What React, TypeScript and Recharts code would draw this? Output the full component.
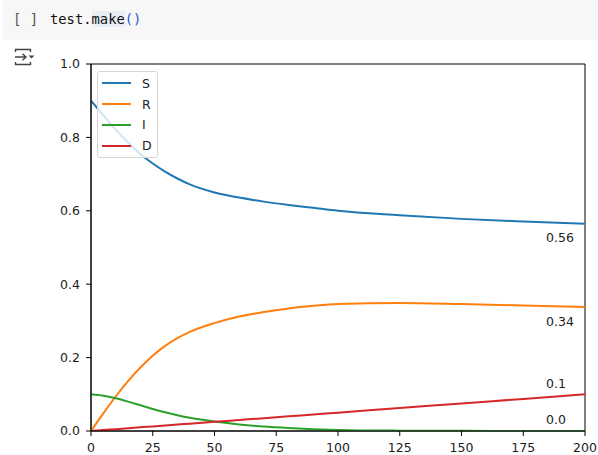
import { LineChart, Line, XAxis, YAxis, Legend, ReferenceArea } from 'recharts';

// time steps
const t = [0, 5, 10, 15, 20, 25, 30, 35, 40, 50, 60, 70, 80, 90, 100, 125, 150, 175, 200];

const sValues = [0.9, 0.86, 0.821, 0.786, 0.755, 0.729, 0.707, 0.688, 0.672, 0.65, 0.636, 0.625, 0.616, 0.608, 0.6, 0.588, 0.578, 0.571, 0.565];
const rValues = [0, 0.048, 0.094, 0.136, 0.173, 0.205, 0.232, 0.253, 0.27, 0.294, 0.312, 0.324, 0.334, 0.341, 0.346, 0.349, 0.346, 0.342, 0.338];
const iValues = [0.1, 0.096, 0.089, 0.08, 0.07, 0.06, 0.051, 0.043, 0.036, 0.026, 0.018, 0.012, 0.008, 0.005, 0.003, 0.001, 0.0004, 0.0002, 0.0001];
const dValues = [0, 0.0025, 0.005, 0.0075, 0.01, 0.0125, 0.015, 0.0175, 0.02, 0.025, 0.03, 0.035, 0.04, 0.045, 0.05, 0.0625, 0.075, 0.0875, 0.1];

const seriesNames = ['S', 'R', 'I', 'D'];
const endLabels = ['0.56', '0.34', '0.0', '0.1'];

const xTicks = [0, 25, 50, 75, 100, 125, 150, 175, 200];
const yTicks = [0, 0.2, 0.4, 0.6, 0.8, 1.0];

const data = t.map((x, i) => ({
  t: x,
  S: sValues[i],
  R: rValues[i],
  I: iValues[i],
  D: dValues[i],
}));

const colors = ['#1f77b4', '#ff7f0e', '#2ca02c', '#d62728'];
// vertical offset of the end label relative to the last point
const labelDy = [14, 15, -11, -11];

const FONT = '"DejaVu Sans", sans-serif';
const MONO = '"DejaVu Sans Mono", "Liberation Mono", monospace';

const makeEndLabel = (idx: number) => (props: any) => {
  const { x, y, index } = props;
  if (index !== t.length - 1) return null;
  return (
    <text
      x={x - 39}
      y={y + labelDy[idx]}
      fill="#222"
      fontSize={12.5}
      fontFamily={FONT}
      dominantBaseline="central"
    >
      {endLabels[idx]}
    </text>
  );
};

const LegendBox = ({ payload }: any) => {
  const items = [...(payload || [])].sort(
    (a: any, b: any) => seriesNames.indexOf(a.value) - seriesNames.indexOf(b.value)
  );
  return (
    <div
      style={{
        width: 61,
        height: 87,
        boxSizing: 'border-box',
        border: '1px solid #d6d6d6',
        borderRadius: 3,
        background: 'rgba(255,255,255,0.8)',
        paddingTop: 1,
        fontFamily: FONT,
        fontSize: 12.5,
        color: '#222',
      }}
    >
      {items.map((p: any) => (
        <div key={p.value} style={{ display: 'flex', alignItems: 'center', height: 20.8 }}>
          <div style={{ width: 29, height: 2, background: p.color, marginLeft: 4 }} />
          <span style={{ marginLeft: 11 }}>{p.value}</span>
        </div>
      ))}
    </div>
  );
};

const OutputIcon = () => (
  <svg width={22} height={18} style={{ position: 'absolute', left: 14, top: 48 }}>
    <g stroke="#444" strokeWidth={1.4} fill="none">
      <path d="M1.5 4 V1.5 H16.5 V4" />
      <path d="M1.5 14 V16.5 H16.5 V14" />
      <path d="M1 9 H12 M8.5 5.8 L12 9 L8.5 12.2" />
    </g>
    <path d="M14.5 7.5 H20.5 L17.5 10.5 Z" fill="#444" />
  </svg>
);

const App = () => {
  return (
    <div style={{ position: 'fixed', left: 0, top: 0, width: 598, height: 455, background: '#fff', overflow: 'hidden' }}>
      <div style={{ position: 'absolute', left: 3, top: 0, width: 595, height: 40, background: '#f7f7f7' }} />
      <div style={{ position: 'absolute', left: 13, top: 11, fontFamily: MONO, fontSize: 14, color: '#555', whiteSpace: 'pre' }}>
        [ ]
      </div>
      <div style={{ position: 'absolute', left: 50, top: 11, fontFamily: MONO, fontSize: 13.8, color: '#111', whiteSpace: 'pre' }}>
        test.<span style={{ background: '#e9eef4' }}>make</span>
        <span style={{ color: '#1c5bd6' }}>()</span>
      </div>
      <OutputIcon />

      <div style={{ position: 'absolute', left: 0, top: 0 }}>
        <LineChart width={598} height={455} data={data} margin={{ top: 64, right: 13, bottom: 0, left: 0 }}>
          <XAxis
            dataKey="t"
            type="number"
            domain={[0, 200]}
            ticks={xTicks}
            height={24}
            tickSize={5}
            tickMargin={7}
            axisLine={{ stroke: '#000' }}
            tickLine={{ stroke: '#000' }}
            tick={{ fill: '#222', fontSize: 12.5, fontFamily: FONT }}
            allowDataOverflow
          />
          <YAxis
            type="number"
            domain={[0, 1]}
            ticks={yTicks}
            width={91}
            tickSize={5}
            tickMargin={6}
            tickFormatter={(v: number) => v.toFixed(1)}
            axisLine={{ stroke: '#000' }}
            tickLine={{ stroke: '#000' }}
            tick={{ fill: '#222', fontSize: 12.5, fontFamily: FONT }}
            allowDataOverflow
          />
          <ReferenceArea x1={0} x2={200} y1={0} y2={1} fill="none" stroke="#000" strokeWidth={1} ifOverflow="visible" />
          {seriesNames.map((name, idx) => (
            <Line
              key={name}
              dataKey={name}
              name={name}
              type="monotone"
              stroke={colors[idx]}
              strokeWidth={2}
              dot={false}
              activeDot={false}
              isAnimationActive={false}
              label={makeEndLabel(idx)}
            />
          ))}
          <Legend
            content={<LegendBox />}
            layout="vertical"
            verticalAlign="middle"
            align="center"
            wrapperStyle={{ left: 97, top: 71, width: 61 }}
          />
        </LineChart>
      </div>
    </div>
  );
};

export default App;
